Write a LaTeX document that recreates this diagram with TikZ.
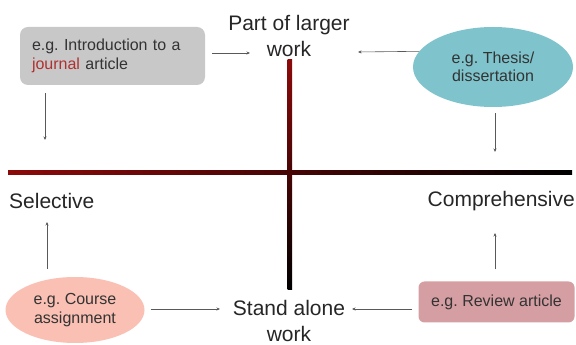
\documentclass[tikz,border=0pt]{standalone}
\usepackage{fontspec}
\setmainfont{Liberation Sans}
\usepackage{tikz}
\usetikzlibrary{arrows.meta,shapes.geometric}
\definecolor{boxgray}{RGB}{200,200,200}
\definecolor{thesisteal}{RGB}{127,196,204}
\definecolor{coursepink}{RGB}{249,192,179}
\definecolor{reviewrose}{RGB}{213,158,163}
\definecolor{journalred}{RGB}{176,48,48}
\definecolor{axisred}{RGB}{140,10,10}
\tikzstyle{axislabel}=[text=black!85,font=\fontsize{21}{26.5}\selectfont,align=center]
\tikzstyle{example}=[text=black!80,font=\fontsize{16}{18.5}\selectfont,align=center]
\tikzstyle{arr}=[draw=black!65,line width=0.6pt,-{Stealth[length=3.5pt,width=3pt]}]
\frenchspacing

\begin{document}
\begin{tikzpicture}[x=1pt,y=1pt]
\useasboundingbox (0,0) rectangle (576,345);
% axes
\shade[left color=axisred,middle color=axisred!70!black,right color=black] (8,170) rectangle (572,174.5);
\shade[top color=axisred,bottom color=black] (287.5,55) rectangle (292,285);
% axis labels
\node [axislabel] (larger) at (289,309) {Part of larger\\work};
\node [axislabel] (alone) at (289,24) {Stand alone\\work};
\node [axislabel,inner sep=0pt,anchor=west] (selective) at (9,144) {Selective};
\node [axislabel,inner sep=0pt,anchor=east] (comprehensive) at (575,144) {Comprehensive};
% examples
\node [example,draw=none,fill=boxgray,rounded corners=8pt,align=left,text width=161pt,inner xsep=12pt,minimum height=58pt] (intro) at (112.5,289) {e.g. Introduction to a\\\textcolor{journalred}{journal} article};
\node [example,ellipse,fill=thesisteal,minimum width=160pt,minimum height=80pt,inner sep=0pt] (thesis) at (493,278) {e.g. Thesis/\\dissertation};
\node [example,ellipse,fill=coursepink,minimum width=139pt,minimum height=66pt,inner sep=0pt] (course) at (75,35) {e.g. Course\\assignment};
\node [example,fill=reviewrose,rounded corners=6pt,minimum width=156pt,minimum height=41pt,inner sep=0pt] (review) at (496.5,43) {e.g. Review article};
% arrow ends
\coordinate (toLargerL) at (250,292);
\coordinate (toLargerR) at (358,293);
\coordinate (toSelT) at (45,205);
\coordinate (toSelB) at (47,123);
\coordinate (toCompT) at (495,193);
\coordinate (toCompB) at (495,112);
\coordinate (toAloneL) at (220,36);
\coordinate (toAloneR) at (352,36);
% arrows
\draw [arr,shorten <=7pt] (intro.east |- toLargerL) -- (toLargerL);
\draw [arr,shorten <=8pt] (intro.south -| toSelT) -- (toSelT);
\draw [arr] (thesis.168) -- (toLargerR);
\draw [arr,shorten <=6pt] (thesis.south -| toCompT) -- (toCompT);
\draw [arr,shorten <=8pt] (course.north -| toSelB) -- (toSelB);
\draw [arr,shorten <=6pt] (course.east |- toAloneL) -- (toAloneL);
\draw [arr,shorten <=6pt] (review.west |- toAloneR) -- (toAloneR);
\draw [arr,shorten <=12pt] (review.north -| toCompB) -- (toCompB);
\end{tikzpicture}
\end{document}
